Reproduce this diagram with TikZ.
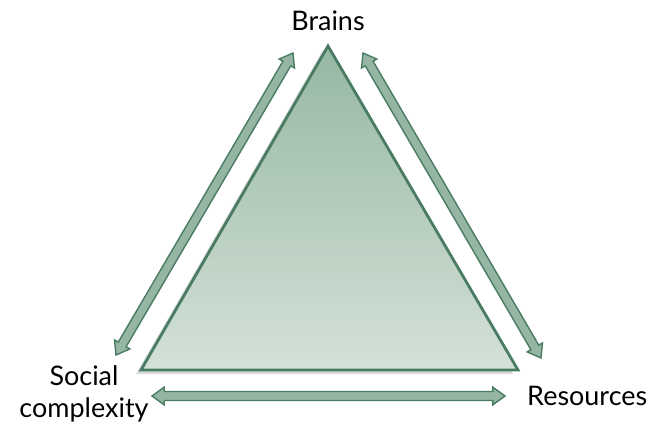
\documentclass[tikz,border=0pt]{standalone}
\usepackage{fontspec}
\setmainfont{Lato}
\usepackage{tikz}
\usetikzlibrary{calc,shapes.arrows}
\definecolor{edge}{RGB}{74,124,100}
\definecolor{arrowfill}{RGB}{150,182,164}
\definecolor{topfill}{RGB}{150,184,162}
\definecolor{botfill}{RGB}{212,225,216}

\newcommand{\fatarrow}[2]{%
  \path let \p1=($(#2)-(#1)$), \n1={atan2(\y1,\x1)}, \n2={veclen(\x1,\y1)} in
    node[twoway,rotate=\n1,minimum height=\n2] (#1#2) at ($(#1)!0.5!(#2)$) {};}

\begin{document}
\begin{tikzpicture}[x=0.03cm,y=-0.03cm,
      label/.style={font=\fontsize{23}{27}\selectfont,align=center,inner sep=0pt},
      twoway/.style={double arrow,draw=edge,fill=arrowfill,line width=1.2pt,
                     inner xsep=0pt,inner ysep=0.115cm,
                     double arrow head extend=0.13cm,
                     double arrow tip angle=72}]
    \useasboundingbox (0,0) rectangle (651,427);
    % corners of the triangle
    \coordinate (apex) at (328,46);
    \coordinate (left) at (141,370);
    \coordinate (right) at (518,370);
    % shadow and triangle
    \fill[black!15] ($(apex)+(-5,4)$) -- ($(left)+(-5,4)$) -- ($(right)+(-5,4)$) -- cycle;
    \draw[edge,line width=2.4pt,line join=miter,top color=topfill,bottom color=botfill]
      (apex) -- (left) -- (right) -- cycle;
    % labels
    \node[label] (brains) at (328,21) {Brains};
    \node[label] (social) at (84,394) {Social\\complexity};
    \node[label,anchor=west] (res) at (527,396) {Resources};
    % ends of the arrows
    \coordinate (l1) at (116,355);
    \coordinate (l2) at (293,53);
    \coordinate (r1) at (363,53);
    \coordinate (r2) at (541,358);
    \coordinate (b1) at (152,396);
    \coordinate (b2) at (505,396);
    \fatarrow{l1}{l2}
    \fatarrow{r1}{r2}
    \fatarrow{b1}{b2}
\end{tikzpicture}
\end{document}
